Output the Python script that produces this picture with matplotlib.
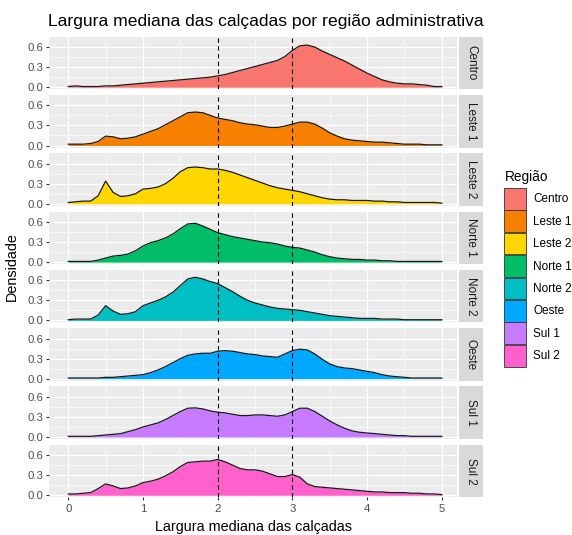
import numpy as np
import matplotlib
matplotlib.use("Agg")
import matplotlib.pyplot as plt
from matplotlib.patches import Patch, Rectangle

plt.rcParams['font.family'] = ['Liberation Sans', 'DejaVu Sans']

# ==========================
# DADOS
# ==========================
# pontos de leitura da curva de densidade (largura, de 0 a 5 com passo 0.1)
largura = np.linspace(0, 5, 51)

regioes = ["Centro", "Leste 1", "Leste 2", "Norte 1", "Norte 2", "Oeste", "Sul 1", "Sul 2"]
cores = ["#F8766D", "#F88000", "#FFD700", "#00BE67", "#00BFC4", "#00A9FF", "#C77CFF", "#FF61CC"]

centro = [0.01, 0.02, 0.01, 0.01, 0.01, 0.02, 0.02, 0.03, 0.04, 0.05,
          0.06, 0.07, 0.08, 0.09, 0.10, 0.11, 0.12, 0.13, 0.14, 0.15,
          0.17, 0.19, 0.22, 0.25, 0.28, 0.31, 0.34, 0.37, 0.40, 0.46,
          0.55, 0.62, 0.63, 0.60, 0.54, 0.49, 0.44, 0.39, 0.33, 0.27,
          0.21, 0.16, 0.11, 0.08, 0.06, 0.05, 0.05, 0.04, 0.03, 0.01, 0.01]

leste1 = [0.02, 0.02, 0.02, 0.03, 0.06, 0.14, 0.13, 0.10, 0.11, 0.13,
          0.17, 0.21, 0.25, 0.31, 0.37, 0.43, 0.49, 0.50, 0.49, 0.45,
          0.41, 0.39, 0.37, 0.34, 0.32, 0.31, 0.29, 0.27, 0.27, 0.29,
          0.32, 0.35, 0.35, 0.32, 0.26, 0.19, 0.14, 0.10, 0.08, 0.07,
          0.06, 0.05, 0.05, 0.04, 0.03, 0.02, 0.02, 0.02, 0.01, 0.01, 0.01]

leste2 = [0.02, 0.03, 0.04, 0.04, 0.12, 0.34, 0.17, 0.11, 0.12, 0.15,
          0.22, 0.23, 0.25, 0.30, 0.38, 0.48, 0.54, 0.55, 0.54, 0.52,
          0.52, 0.50, 0.47, 0.43, 0.39, 0.35, 0.31, 0.27, 0.24, 0.22,
          0.20, 0.18, 0.15, 0.12, 0.09, 0.07, 0.06, 0.06, 0.05, 0.05,
          0.05, 0.04, 0.04, 0.03, 0.03, 0.02, 0.02, 0.02, 0.02, 0.02, 0.01]

norte1 = [0.01, 0.01, 0.01, 0.01, 0.03, 0.06, 0.09, 0.10, 0.12, 0.17,
          0.24, 0.29, 0.32, 0.36, 0.42, 0.50, 0.57, 0.58, 0.54, 0.49,
          0.44, 0.41, 0.38, 0.36, 0.34, 0.32, 0.30, 0.29, 0.27, 0.24,
          0.22, 0.21, 0.18, 0.15, 0.11, 0.08, 0.06, 0.05, 0.04, 0.04,
          0.03, 0.03, 0.02, 0.02, 0.01, 0.01, 0.01, 0.01, 0.01, 0.01, 0.01]

norte2 = [0.01, 0.02, 0.02, 0.02, 0.08, 0.22, 0.14, 0.09, 0.10, 0.13,
          0.22, 0.26, 0.30, 0.35, 0.42, 0.52, 0.62, 0.645, 0.62, 0.58,
          0.55, 0.49, 0.43, 0.36, 0.30, 0.26, 0.23, 0.20, 0.18, 0.17,
          0.16, 0.15, 0.13, 0.11, 0.09, 0.07, 0.06, 0.05, 0.04, 0.03,
          0.03, 0.03, 0.02, 0.02, 0.02, 0.01, 0.01, 0.01, 0.01, 0.01, 0.01]

oeste = [0.01, 0.01, 0.01, 0.01, 0.01, 0.02, 0.02, 0.03, 0.04, 0.05,
         0.06, 0.09, 0.13, 0.18, 0.24, 0.30, 0.35, 0.37, 0.38, 0.38,
         0.41, 0.42, 0.41, 0.39, 0.37, 0.36, 0.34, 0.33, 0.32, 0.37,
         0.42, 0.44, 0.43, 0.37, 0.29, 0.22, 0.18, 0.16, 0.15, 0.13,
         0.11, 0.09, 0.06, 0.04, 0.03, 0.02, 0.01, 0.01, 0.01, 0.01, 0.01]

sul1 = [0.01, 0.01, 0.01, 0.01, 0.02, 0.03, 0.04, 0.05, 0.08, 0.11,
        0.15, 0.18, 0.21, 0.26, 0.32, 0.38, 0.43, 0.435, 0.42, 0.39,
        0.37, 0.36, 0.34, 0.32, 0.32, 0.33, 0.33, 0.32, 0.31, 0.33,
        0.38, 0.43, 0.43, 0.38, 0.31, 0.24, 0.18, 0.13, 0.09, 0.07,
        0.06, 0.05, 0.04, 0.03, 0.02, 0.02, 0.01, 0.01, 0.01, 0.01, 0.01]

sul2 = [0.02, 0.02, 0.03, 0.04, 0.10, 0.17, 0.14, 0.10, 0.11, 0.14,
        0.19, 0.21, 0.24, 0.29, 0.35, 0.43, 0.49, 0.50, 0.51, 0.51,
        0.535, 0.50, 0.45, 0.40, 0.38, 0.38, 0.36, 0.32, 0.28, 0.28,
        0.31, 0.27, 0.17, 0.13, 0.12, 0.11, 0.10, 0.09, 0.08, 0.07,
        0.06, 0.05, 0.05, 0.04, 0.04, 0.04, 0.03, 0.03, 0.02, 0.02, 0.01]

densidades = [centro, leste1, leste2, norte1, norte2, oeste, sul1, sul2]

# linhas de referência tracejadas
referencias = [2, 3]

# ==========================
# GRÁFICO
# ==========================
fig, eixos = plt.subplots(8, 1, figsize=(5.72, 5.35), dpi=100, sharex=True)
fig.subplots_adjust(left=0.0862, right=0.7998, top=0.9314, bottom=0.0705, hspace=0.11)

for ax, nome, cor, dens in zip(eixos, regioes, cores, densidades):
    ax.set_facecolor("#EBEBEB")
    for lado in ax.spines.values():
        lado.set_visible(False)

    ax.set_xlim(-0.254, 5.21)
    ax.set_ylim(-0.03, 0.755)
    ax.set_xticks([0, 1, 2, 3, 4, 5])
    ax.set_xticks([0.5, 1.5, 2.5, 3.5, 4.5], minor=True)
    ax.set_yticks([0.0, 0.3, 0.6])
    ax.set_yticks([0.15, 0.45], minor=True)
    ax.set_yticklabels(["0.0", "0.3", "0.6"])

    ax.grid(which="major", color="white", linewidth=0.9)
    ax.grid(which="minor", color="white", linewidth=0.45)
    ax.set_axisbelow(True)

    ax.tick_params(which="major", length=2.5, width=0.8, color="#333333",
                   labelcolor="#4D4D4D", labelsize=8.2, pad=2)
    ax.tick_params(which="minor", length=0)
    ax.tick_params(axis="x", which="major", labelbottom=False, bottom=False)

    ax.fill_between(largura, dens, 0, color=cor, linewidth=0, zorder=2)
    ax.plot(largura, dens, color="#1A1A1A", linewidth=0.9, zorder=3)

    for ref in referencias:
        ax.axvline(ref, color="black", linewidth=0.8, linestyle=(0, (4, 3)), zorder=4)

    # faixa cinza com o nome da região
    ax.add_patch(Rectangle((1.0044, 0), 0.0573, 1, transform=ax.transAxes,
                           facecolor="#D9D9D9", edgecolor="none", clip_on=False))
    ax.text(1.033, 0.5, nome, transform=ax.transAxes, rotation=-90,
            ha="center", va="center", fontsize=8.5, color="#1A1A1A")

eixos[-1].tick_params(axis="x", which="major", labelbottom=True, bottom=True)

fig.text(0.084, 1 - 26 / 535, "Largura mediana das calçadas por região administrativa",
         ha="left", va="baseline", fontsize=12.6, color="black")
fig.text(0.443, 1 - 527 / 535, "Largura mediana das calçadas",
         ha="center", va="center", fontsize=10.4)
fig.text(12 / 572, 0.501, "Densidade", rotation=90, ha="center", va="center", fontsize=10.4)

# legenda (título separado para acertar o espaçamento)
fig.text(505 / 572, 1 - 181 / 535, "Região", ha="left", va="baseline", fontsize=9.8)
handles = [Patch(facecolor=c, edgecolor="#333333", linewidth=0.6) for c in cores]
leg = fig.legend(handles, regioes, loc="upper left", bbox_to_anchor=(504 / 572, 1 - 188 / 535),
                 fontsize=8.5, frameon=False,
                 handlelength=1.84, handleheight=2.45, labelspacing=0.06,
                 handletextpad=0.65, borderpad=0, borderaxespad=0)

fig.savefig("out.png", dpi=100)
